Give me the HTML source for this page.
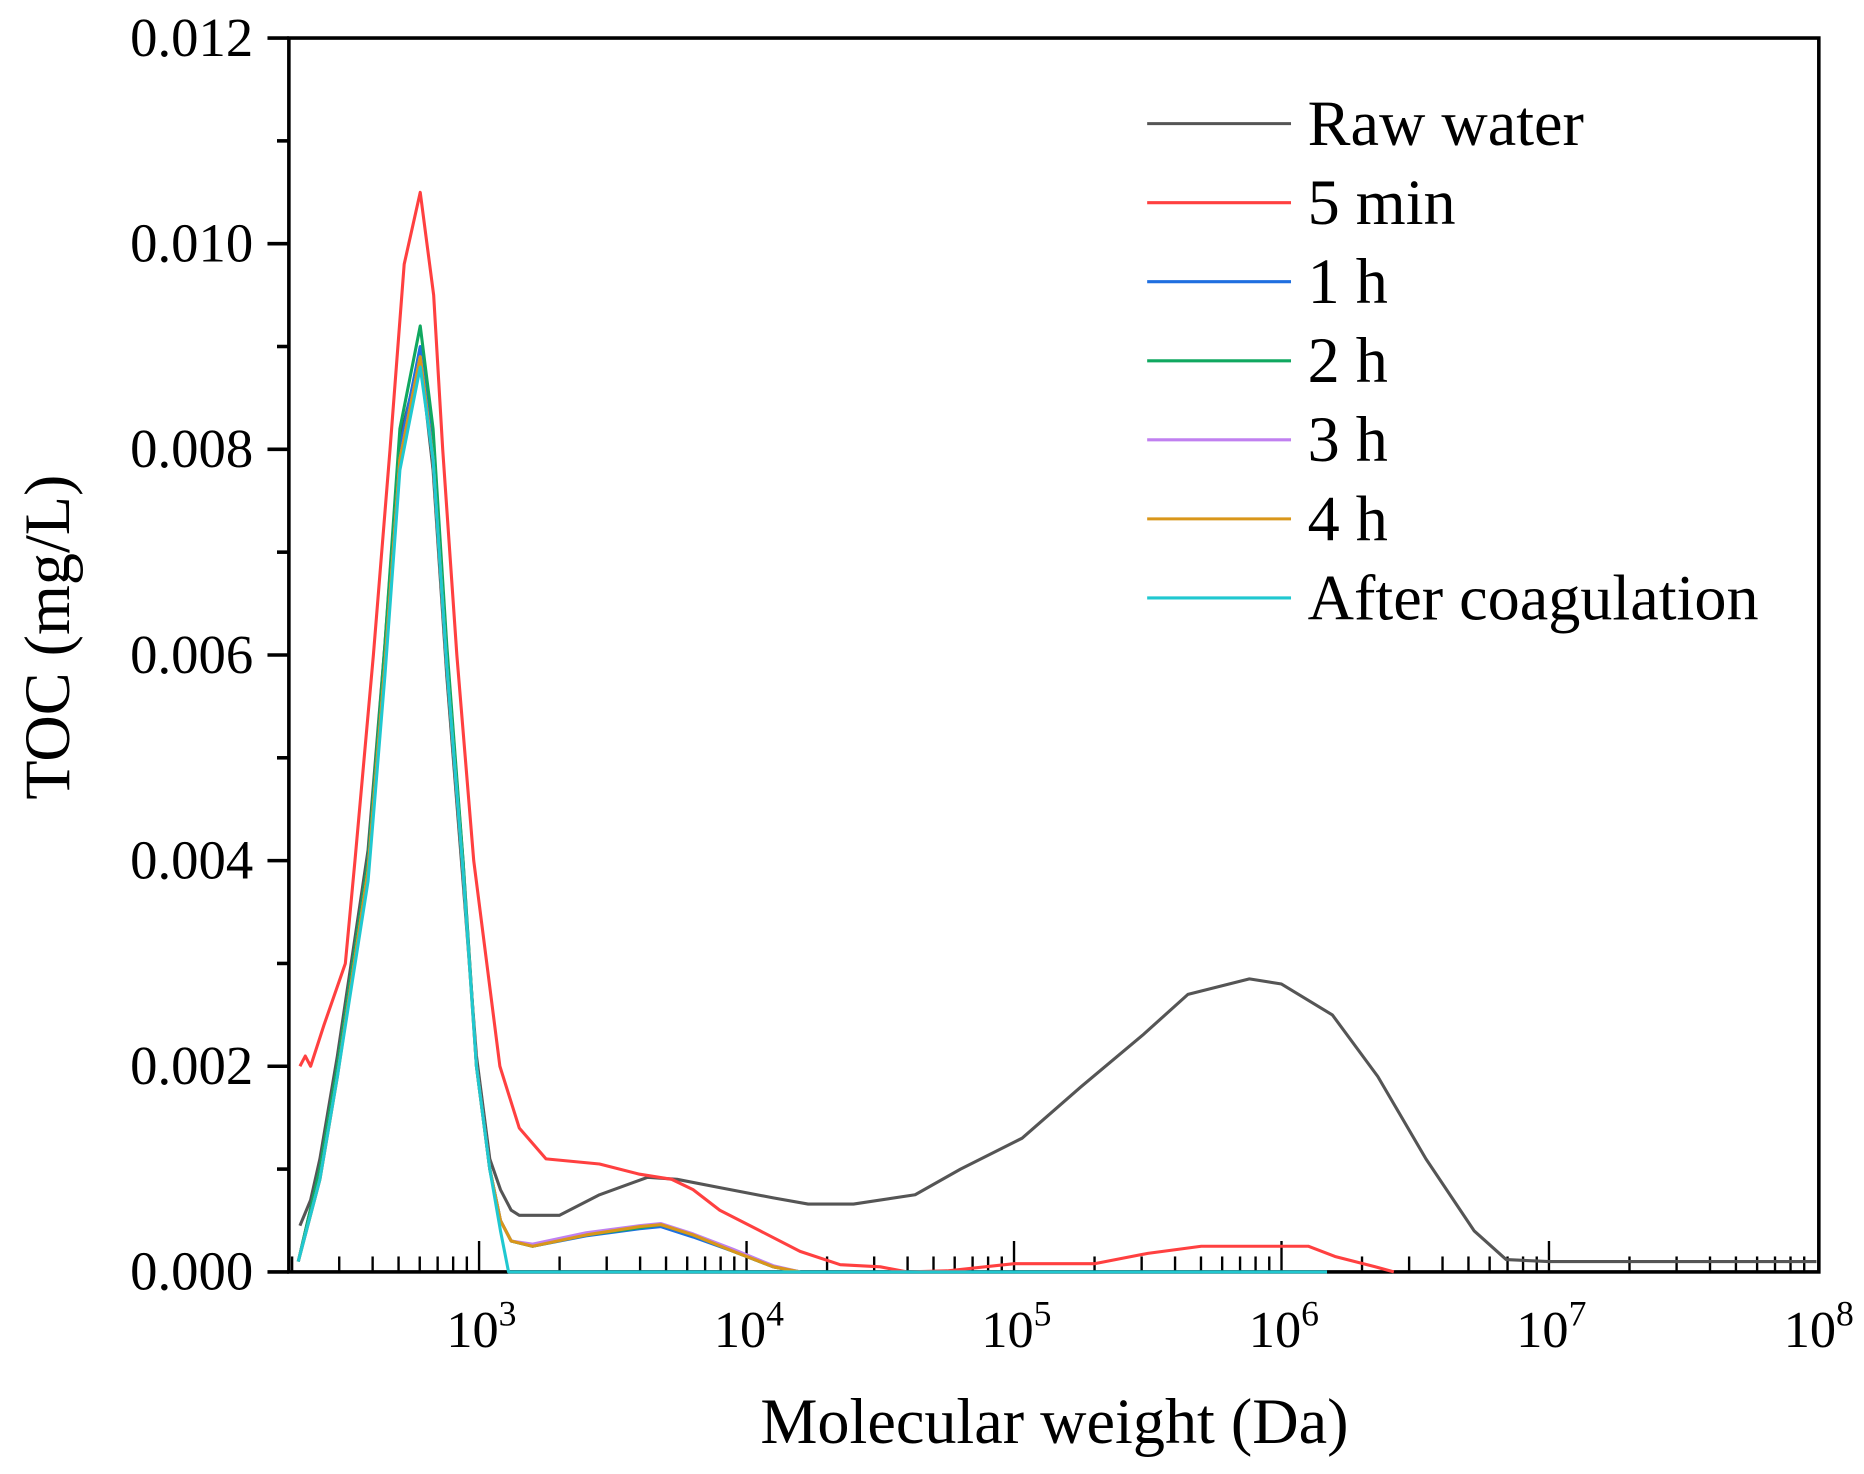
<!DOCTYPE html>
<html><head><meta charset="utf-8"><style>
html,body{margin:0;padding:0;background:#fff;}
svg{display:block;}
text{font-family:"Liberation Serif",serif;fill:#000;}
</style></head><body>
<svg id="chart" width="1864" height="1474" viewBox="0 0 1568 1240" preserveAspectRatio="none" xmlns="http://www.w3.org/2000/svg">
<g id="axes"></g>
<g id="series"></g>
<g id="legend"></g>
</svg>
<script>
const yTicks = [0, 0.002, 0.004, 0.006, 0.008, 0.010, 0.012];
const yTickLabels = ["0.000","0.002","0.004","0.006","0.008","0.010","0.012"];
const xDecades = [3,4,5,6,7,8];
const seriesNames = ["Raw water","5 min","1 h","2 h","3 h","4 h","After coagulation"];
const seriesColors = ["#555555","#ff4040","#1f6fe0","#10a860","#c080f0","#d9961a","#20c8d0"];
// x values are log10(MW)
const rawX = [2.33,2.37,2.405,2.47,2.585,2.648,2.704,2.78,2.828,2.879,2.94,2.99,3.04,3.08,3.12,3.15,3.3,3.45,3.63,3.74,3.9,4.1,4.23,4.4,4.63,4.8,5.03,5.25,5.48,5.65,5.88,6.0,6.19,6.36,6.54,6.72,6.84,7.0,8.0];
const rawY = [0.00045,0.0007,0.0011,0.0021,0.0041,0.0061,0.0081,0.0089,0.0078,0.0058,0.0038,0.0021,0.0011,0.0008,0.0006,0.00055,0.00055,0.00075,0.00092,0.0009,0.00082,0.00072,0.00066,0.00066,0.00075,0.001,0.0013,0.0018,0.0023,0.0027,0.00285,0.0028,0.0025,0.0019,0.0011,0.0004,0.00012,0.0001,0.0001];
const redX = [2.33,2.35,2.37,2.42,2.5,2.536,2.605,2.667,2.72,2.78,2.83,2.864,2.917,2.98,3.078,3.15,3.25,3.45,3.6,3.72,3.8,3.9,4.05,4.2,4.35,4.5,4.6,4.75,5.0,5.3,5.5,5.7,6.1,6.2,6.35,6.42];
const redY = [0.002,0.0021,0.002,0.0024,0.003,0.004,0.006,0.008,0.0098,0.0105,0.0095,0.008,0.006,0.004,0.002,0.0014,0.0011,0.00105,0.00095,0.0009,0.0008,0.0006,0.0004,0.0002,0.00007,0.00005,0,0.00001,0.00008,0.00008,0.00018,0.00025,0.00025,0.00015,0.00005,0];
const midX = [2.324,2.405,2.47,2.585,2.648,2.704,2.78,2.828,2.879,2.94,2.99,3.04,3.08,3.12,3.2,3.4,3.6,3.68,3.8,3.95,4.1,4.2];
const blueY = [0.0001,0.001,0.002,0.004,0.006,0.008,0.009,0.008,0.006,0.004,0.002,0.001,0.0005,0.0003,0.00025,0.00035,0.00042,0.00044,0.00034,0.0002,0.00005,0];
const greenY = [0.0001,0.001,0.002,0.004,0.0061,0.0082,0.0092,0.0082,0.0061,0.004,0.002,0.001,0.0005,0.0003,0.00025,0.00036,0.00043,0.00046,0.00036,0.0002,0.00005,0];
const purpleY = [0.0001,0.0009,0.0019,0.0039,0.0059,0.0079,0.0089,0.0079,0.0059,0.0039,0.002,0.001,0.0005,0.0003,0.00027,0.00038,0.00045,0.00047,0.00037,0.00022,0.00006,0];
const orangeY = [0.0001,0.0009,0.0019,0.0039,0.0059,0.0079,0.0089,0.0079,0.0059,0.0039,0.002,0.001,0.0005,0.0003,0.00025,0.00036,0.00044,0.00046,0.00036,0.0002,0.00005,0];
const cyanX = [2.324,2.405,2.47,2.585,2.648,2.704,2.78,2.828,2.879,2.94,2.99,3.04,3.08,3.11,6.17];
const cyanY = [0.0001,0.0009,0.0019,0.0038,0.0058,0.0078,0.0088,0.0079,0.0059,0.0039,0.002,0.001,0.0004,0,0];

const L=243,R=1530,T=32,B=1070;
const xs = lg => 403 + (lg-3)*225;
const ys = v => B - v/0.012*(B-T);
const NS="http://www.w3.org/2000/svg";
function mk(tag, parent, attrs){const e=document.createElementNS(NS,tag);for(const k in attrs)e.setAttribute(k,attrs[k]);parent.appendChild(e);return e;}
const axes=document.getElementById('axes');
let e;
e=mk('rect',axes,{x:L,y:T,width:R-L,height:B-T,fill:'none',stroke:'#000','stroke-width':3});


yTicks.forEach((v,i)=>{
  e=mk('line',axes,{x1:L-18,x2:L,y1:ys(v),y2:ys(v),stroke:'#000','stroke-width':3});
  
  
  e=mk('text',axes,{x:L-30,y:ys(v)+15,'text-anchor':'end','font-size':46});
  e.textContent=yTickLabels[i];
  
  
  if(i<yTicks.length-1){
    e=mk('line',axes,{x1:L-10,x2:L,y1:ys(v+0.001),y2:ys(v+0.001),stroke:'#000','stroke-width':3});
    
    
  }
});
for(let d=2;d<8;d++){
  for(let m=1;m<10;m++){
    const lg=d+Math.log10(m);
    const x=xs(lg);
    if(x<L+2||x>R)continue;
    const major=(m===1);
    e=mk('line',axes,{x1:x,x2:x,y1:B,y2:B-(major?26:13),stroke:'#000','stroke-width':2});
    
    
  }
}
xDecades.forEach(d=>{
  const t=mk('text',axes,{x:xs(d)+2,y:1133,'text-anchor':'middle','font-size':44});
  
  
  t.appendChild(document.createTextNode('10'));
  const s=mk('tspan',t,{dy:-18,'font-size':30});s.textContent=String(d);
});
e=mk('text',axes,{x:887,y:1214,'text-anchor':'middle','font-size':54});
e.textContent='Molecular weight (Da)';


e=mk('text',axes,{x:0,y:0,'text-anchor':'middle','font-size':54,transform:'translate(58,536) rotate(-90)'});
e.textContent='TOC (mg/L)';



const ser=document.getElementById('series');
const data=[[rawX,rawY],[redX,redY],[midX,blueY],[midX,greenY],[midX,purpleY],[midX,orangeY],[cyanX,cyanY]];
const names=['line-raw-water','line-5-min','line-1-h','line-2-h','line-3-h','line-4-h','line-after-coagulation'];
data.forEach((d,i)=>{
  const pts=d[0].map((x,j)=>xs(x).toFixed(1)+','+ys(d[1][j]).toFixed(1)).join(' ');
  const p=mk('polyline',ser,{points:pts,fill:'none',stroke:seriesColors[i],'stroke-width':2.6,'stroke-linejoin':'round'});
  
  
});
const leg=document.getElementById('legend');
seriesNames.forEach((n,i)=>{
  const y=104+i*66.5;
  e=mk('line',leg,{x1:965,x2:1086,y1:y,y2:y,stroke:seriesColors[i],'stroke-width':2.6});
  
  
  e=mk('text',leg,{x:1100,y:y+18,'font-size':54});
  e.textContent=n;
  
  
});
</script>
</body></html>
